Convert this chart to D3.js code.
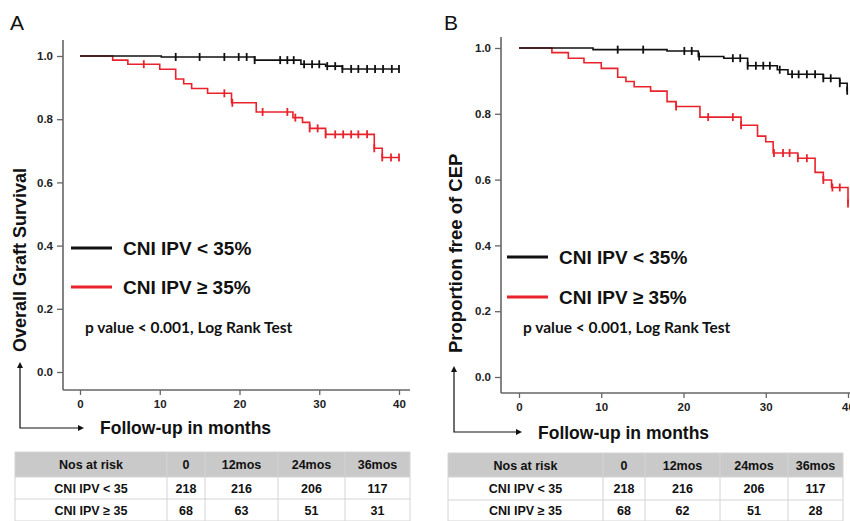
<!DOCTYPE html>
<html>
<head>
<meta charset="utf-8">
<script src="https://cdn.jsdelivr.net/npm/d3@7"></script>
<style>
  body { margin: 0; background: #fff; }
  svg { display: block; font-family: "Liberation Sans", Arial, sans-serif; }
  .tick text { font-family: "Liberation Sans Narrow", "Liberation Sans", Arial, sans-serif; font-weight: bold; font-size: 11.5px; fill: #222; }
</style>
</head>
<body>
<svg id="chart" width="850" height="521"></svg>
<script>
const W = 850, H = 521;

// ---- data: [month, proportion] at each drop ----
const aLowSteps = [[0,1],[10.2,0.997],[21.9,0.987],[27.7,0.974],[30.8,0.968],[32.9,0.959]];
const aLowCens  = [12,15,18.1,19.9,20.9,21.9,25.1,26,26.8,28.1,29.1,30,31,32,32.9,34,34.9,36,37,38,39.1,40];
const aHighSteps = [[0,1],[4.1,0.987],[6,0.974],[10,0.958],[12,0.927],[13,0.912],[14,0.897],[16,0.882],
                    [19,0.852],[22.1,0.823],[26.7,0.805],[27.9,0.790],[28.8,0.771],[30.8,0.752],[36.9,0.708],[37.9,0.679]];
const aHighCens = [8,18.1,19.1,22.9,26,27,28.8,29.8,30.8,32,33,34,34.9,36,36.9,37.9,39,40];

const bLowSteps = [[0,1],[9,0.995],[18,0.991],[21.8,0.974],[24.9,0.969],[27.8,0.946],[31.4,0.934],
                   [32.7,0.920],[37,0.908],[39,0.893],[39.9,0.870]];
const bLowCens  = [12,15.1,20.1,21,21.9,26,26.9,27.8,28.8,29.7,30.5,31.7,33.2,34,35,36,37,37.9,39,39.9];
const bHighSteps = [[0,1],[4,0.986],[6,0.969],[7.9,0.955],[10,0.938],[12,0.911],[13,0.898],[14,0.882],
                    [16,0.869],[18,0.837],[19.1,0.822],[22,0.790],[27,0.765],[29,0.732],[30,0.715],
                    [30.9,0.681],[33.9,0.665],[36,0.622],[37,0.599],[38,0.576],[40,0.527]];
const bHighCens = [19.1,23,26,27,31,32.1,32.9,33.9,35,37,38.1,39,40];

const groups = ["CNI IPV < 35%", "CNI IPV \u2265 35%"];
const riskHead = ["Nos at risk", "0", "12mos", "24mos", "36mos"];
const riskRowNames = ["CNI IPV < 35", "CNI IPV \u2265 35"];
const aRisk = [[218,216,206,117],[68,63,51,31]];
const bRisk = [[218,216,206,117],[68,62,51,28]];
const xTicks = [0,10,20,30,40];
const yTicks = [0,0.2,0.4,0.6,0.8,1.0];

const colors = ["#111", "#e8232b"];
const svg = d3.select("#chart");

function drawPanel(p) {
  const g = svg.append("g");
  const x = d3.scaleLinear().domain([0,40]).range(p.xr);
  const y = d3.scaleLinear().domain([0,1]).range(p.yr);

  // panel letter
  g.append("text").attr("x", p.letterX).attr("y", 30)
    .style("font-size", "21px").attr("fill", "#111").text(p.letter);

  // axes (own domain lines, offset from origin like SPSS)
  const ya = g.append("g").attr("transform", `translate(${p.axX},0)`)
    .call(d3.axisLeft(y).tickValues(yTicks).tickFormat(d3.format(".1f")).tickSize(6).tickSizeOuter(0).tickPadding(4));
  const xa = g.append("g").attr("transform", `translate(0,${p.axY})`)
    .call(d3.axisBottom(x).tickValues(xTicks).tickSize(5).tickSizeOuter(0).tickPadding(5));
  ya.select(".domain").remove(); xa.select(".domain").remove();
  g.selectAll(".tick line").attr("stroke", "#666").attr("stroke-width", 1.3);
  g.append("line").attr("x1", p.axX).attr("x2", p.axX).attr("y1", p.axTop).attr("y2", p.axY)
    .attr("stroke", "#666").attr("stroke-width", 1.6);
  g.append("line").attr("x1", p.axX).attr("x2", p.axRight).attr("y1", p.axY).attr("y2", p.axY)
    .attr("stroke", "#666").attr("stroke-width", 1.6);

  // survival curves
  const line = d3.line().curve(d3.curveStepAfter).x(d => x(d[0])).y(d => y(d[1]));
  const at = (steps, t) => { let s = steps[0][1]; steps.forEach(d => { if (d[0] <= t + 1e-6) s = d[1]; }); return s; };
  [p.high, p.low].forEach((c, i) => {
    const col = colors[1 - i];
    const pts = c.steps.concat([[40, c.steps[c.steps.length - 1][1]]]);
    g.append("path").attr("d", line(pts)).attr("fill", "none")
      .attr("stroke", col).attr("stroke-width", 1.6);
    g.selectAll(null).data(c.cens).join("line")
      .attr("x1", d => x(d)).attr("x2", d => x(d))
      .attr("y1", d => y(at(c.steps, d)) - 4).attr("y2", d => y(at(c.steps, d)) + 4)
      .attr("stroke", col).attr("stroke-width", 1.8);
  });

  // legend
  groups.forEach((name, i) => {
    const ly = p.legY[i];
    g.append("line").attr("x1", p.legX).attr("x2", p.legX + 41).attr("y1", ly).attr("y2", ly)
      .attr("stroke", colors[i]).attr("stroke-width", 3);
    g.append("text").attr("x", p.legX + 52).attr("y", ly + 7)
      .style("font-size", "19px").style("font-weight", "bold").attr("fill", "#111").text(name);
  });
  g.append("text").attr("x", p.pX).attr("y", 333)
    .style("font-family", "Lato, 'Open Sans', sans-serif").style("font-size", "15.5px")
    .style("font-weight", "bold").attr("fill", "#111").text("p value < 0.001, Log Rank Test");

  // axis titles + arrows
  g.append("text").attr("transform", `translate(${p.yTitleX},${p.yTitleBottom}) rotate(-90)`)
    .style("font-size", p.yTitleSize).style("font-weight", "bold").attr("fill", "#111").text(p.yTitle);
  g.append("text").attr("x", p.xTitleX).attr("y", p.xTitleY)
    .style("font-size", "17.5px").style("font-weight", "bold").attr("fill", "#111").text("Follow-up in months");
  const ar = p.arrow;
  g.append("path").attr("d", `M${ar.x},${ar.top + 4}V${ar.y}H${ar.right - 4}`)
    .attr("fill", "none").attr("stroke", "#111").attr("stroke-width", 1.2);
  g.append("path").attr("d", `M${ar.x},${ar.top}l-3,6h6z`).attr("fill", "#111");
  g.append("path").attr("d", `M${ar.right},${ar.y}l-6,-3v6z`).attr("fill", "#111");

  // numbers at risk table
  const t = p.table;
  const rows = [riskHead].concat(riskRowNames.map((n, i) => [n].concat(p.risk[i])));
  rows.forEach((r, ri) => {
    const y0 = t.y[ri], y1 = t.y[ri + 1];
    if (ri === 0) g.append("rect").attr("x", t.x[0]).attr("y", y0)
      .attr("width", t.x[t.x.length - 1] - t.x[0]).attr("height", y1 - y0).attr("fill", "#c9c9c9");
    r.forEach((v, ci) => {
      g.append("text").attr("x", (t.x[ci] + t.x[ci + 1]) / 2).attr("y", (y0 + y1) / 2 + 4.5)
        .attr("text-anchor", "middle").style("font-size", "12.5px").style("font-weight", "bold")
        .attr("fill", "#111").text(v);
    });
  });
  t.y.forEach(yy => g.append("line").attr("x1", t.x[0]).attr("x2", t.x[t.x.length - 1])
    .attr("y1", yy).attr("y2", yy).attr("stroke", "#d4d4d4"));
  t.x.forEach(xx => g.append("line").attr("x1", xx).attr("x2", xx)
    .attr("y1", t.y[0]).attr("y2", t.y[t.y.length - 1]).attr("stroke", "#d4d4d4"));
}

drawPanel({
  letter: "A", letterX: 10,
  xr: [80, 399], yr: [372, 56], axX: 63, axY: 390, axTop: 40, axRight: 410,
  low: {steps: aLowSteps, cens: aLowCens}, high: {steps: aHighSteps, cens: aHighCens},
  legX: 71, legY: [248, 287], pX: 85,
  yTitle: "Overall Graft Survival", yTitleX: 26, yTitleBottom: 352, yTitleSize: "18px",
  xTitleX: 100, xTitleY: 434,
  arrow: {x: 20, y: 428, top: 362, right: 84},
  table: {x: [15, 167, 205, 278, 345, 410], y: [452, 477, 499, 521]},
  risk: aRisk
});

drawPanel({
  letter: "B", letterX: 444,
  xr: [519, 848], yr: [377, 48], axX: 501, axY: 393, axTop: 37, axRight: 850,
  low: {steps: bLowSteps, cens: bLowCens}, high: {steps: bHighSteps, cens: bHighCens},
  legX: 507, legY: [257, 297], pX: 523,
  yTitle: "Proportion free of CEP", yTitleX: 462, yTitleBottom: 353, yTitleSize: "18.5px",
  xTitleX: 538, xTitleY: 439,
  arrow: {x: 454, y: 432, top: 366, right: 522},
  table: {x: [448, 603, 645, 720, 788, 843], y: [453, 477, 500, 521]},
  risk: bRisk
});
</script>
</body>
</html>
